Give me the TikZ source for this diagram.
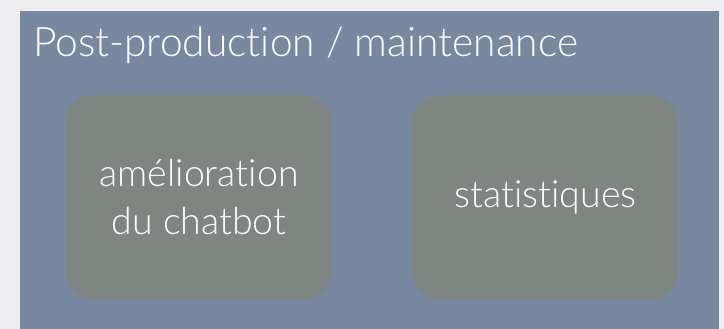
\documentclass[tikz,border=0pt]{standalone}
\usepackage{fontspec}
\setmainfont{Lato}[UprightFont=* Light,Ligatures=NoCommon]
\definecolor{pagebg}{HTML}{EEEEF0}
\definecolor{panelblue}{HTML}{7888A0}
\definecolor{taskgray}{HTML}{7F8682}
\begin{document}
\begin{tikzpicture}[x=1pt,y=-1pt]
        \tikzset{task/.style={fill=taskgray,rounded corners=28pt,minimum width=266pt,minimum height=204pt,align=center,text=white,font=\fontsize{37.5}{48}\selectfont}};
        \fill[pagebg] (0,0) rectangle (724,329);
        \fill[panelblue] (20,11) rectangle (719,329);
        \node[anchor=base west,text=white,inner sep=0pt,font=\fontsize{40.7}{44}\selectfont] (title) at (33,57) {Post-production / maintenance};
        \node[task] (improve) at (199,197) {amélioration\\du chatbot};
        \node[task] (stats) at (545.5,197) {statistiques};
    \end{tikzpicture}
\end{document}
